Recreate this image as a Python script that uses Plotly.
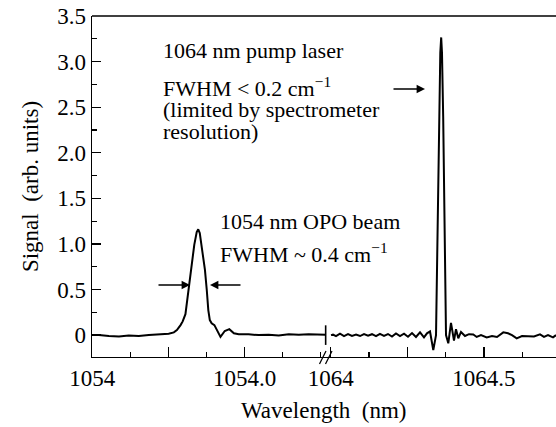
import plotly.graph_objects as go

# ---- data ----
# left segment (OPO beam, ~1054 nm)
wl_left = [1053.500, 1053.522, 1053.555, 1053.588, 1053.620, 1053.653, 1053.686, 1053.719,
           1053.751, 1053.768, 1053.778, 1053.790, 1053.797, 1053.806, 1053.812, 1053.819,
           1053.827, 1053.835, 1053.843, 1053.848, 1053.853, 1053.861, 1053.870, 1053.876,
           1053.881, 1053.886, 1053.892, 1053.901, 1053.910, 1053.921, 1053.935, 1053.950,
           1053.965, 1053.981, 1054.013, 1054.046, 1054.079, 1054.112, 1054.145, 1054.178,
           1054.210, 1054.243, 1054.266]
sig_left = [0.000, 0.000, -0.010, -0.015, -0.005, -0.010, 0.000, 0.010,
            0.015, 0.030, 0.055, 0.110, 0.150, 0.230, 0.385, 0.550,
            0.800, 0.990, 1.130, 1.160, 1.120, 0.935, 0.715, 0.495,
            0.275, 0.165, 0.130, 0.110, 0.045, -0.020, 0.045, 0.065,
            0.020, 0.010, 0.010, 0.000, 0.005, -0.005, 0.010, 0.005,
            0.010, 0.005, 0.005]

# right segment (pump laser, 1064 nm)
wl_right = [1064.0010, 1064.0075, 1064.0173, 1064.0304, 1064.0434, 1064.0565, 1064.0695, 1064.0826,
            1064.0957, 1064.1087, 1064.1218, 1064.1347, 1064.1478, 1064.1608, 1064.1739, 1064.1869,
            1064.2000, 1064.2130, 1064.2261, 1064.2392, 1064.2522, 1064.2653, 1064.2783, 1064.2914,
            1064.3044, 1064.3142, 1064.3240, 1064.3347, 1064.3436, 1064.3485, 1064.3533, 1064.3576,
            1064.3605, 1064.3631, 1064.3670, 1064.3716, 1064.3762, 1064.3837, 1064.3925, 1064.4023,
            1064.4088, 1064.4163, 1064.4251, 1064.4382, 1064.4512, 1064.4652, 1064.4763, 1064.4904,
            1064.5090, 1064.5263, 1064.5426, 1064.5631, 1064.5785, 1064.5915, 1064.6069, 1064.6241,
            1064.6437, 1064.6633, 1064.6829, 1064.6959, 1064.7090, 1064.7253, 1064.7351]
sig_right = [0.000, 0.005, -0.012, 0.015, -0.010, 0.012, -0.008, 0.006,
             -0.010, 0.012, -0.006, 0.010, -0.012, 0.014, -0.008, 0.012,
             -0.015, 0.018, -0.010, 0.016, -0.018, 0.022, -0.020, 0.030,
             -0.025, 0.020, 0.040, -0.165, 0.000, 1.200, 2.400, 3.100,
             3.265, 3.100, 2.400, 1.200, 0.000, -0.090, 0.135, -0.060,
             0.065, -0.035, 0.035, -0.010, 0.010, 0.008, -0.020, 0.000,
             -0.025, -0.010, -0.020, 0.030, 0.020, 0.000, -0.035, -0.010,
             -0.015, -0.015, 0.008, -0.020, 0.000, -0.025, 0.000]

break_wl = [1054.266]
break_sig = [0.0]

y_ticks = [0, 0.5, 1.0, 1.5, 2.0, 2.5, 3.0, 3.5]
y_ticktext = ["0", "0.5", "1.0", "1.5", "2.0", "2.5", "3.0", "3.5"]
xl_ticks = [1053.5, 1053.75, 1054.0]
xl_ticktext = ["1054", "", "1054.0"]
xr_ticks = [1064.0, 1064.25, 1064.5]
xr_ticktext = ["1064", "", "1064.5"]

FONT = "Liberation Serif, Times New Roman, serif"
BLACK = "black"

fig = go.Figure()
fig.add_trace(go.Scatter(x=wl_left, y=sig_left, mode="lines",
                         line=dict(color=BLACK, width=2), xaxis="x", yaxis="y",
                         showlegend=False, hoverinfo="skip"))
fig.add_trace(go.Scatter(x=wl_right, y=sig_right, mode="lines",
                         line=dict(color=BLACK, width=2), xaxis="x2", yaxis="y",
                         showlegend=False, hoverinfo="skip"))
fig.add_trace(go.Scatter(x=break_wl, y=break_sig, mode="markers",
                         marker=dict(symbol="line-ns", size=14,
                                     line=dict(color=BLACK, width=1.6)),
                         xaxis="x", yaxis="y", showlegend=False, hoverinfo="skip"))

SPLIT = 0.5108
tickfont = dict(family=FONT, size=23, color=BLACK)
common_x = dict(showline=True, linecolor=BLACK, linewidth=1.3, ticks="inside",
                ticklen=10, tickwidth=1.3, tickcolor=BLACK, tickfont=tickfont,
                showgrid=False, zeroline=False, tickmode="array", automargin=False)

fig.update_layout(
    template="none",
    width=556, height=427,
    margin=dict(l=92, r=0, t=16, b=70, autoexpand=False),
    paper_bgcolor="white", plot_bgcolor="white",
    font=dict(family=FONT, color=BLACK),
    xaxis=dict(domain=[0, SPLIT], range=[1053.4995, 1054.277],
               tickvals=xl_ticks, ticktext=xl_ticktext,
               minor=dict(ticks="inside", ticklen=5, tickwidth=1.3, tickcolor=BLACK,
                          tick0=1053.5, dtick=0.125, showgrid=False),
               **common_x),
    xaxis2=dict(domain=[SPLIT, 1], range=[1063.9945, 1064.7351], anchor="y",
                tickvals=xr_ticks, ticktext=xr_ticktext,
                minor=dict(ticks="inside", ticklen=5, tickwidth=1.3, tickcolor=BLACK,
                           tick0=1064.0, dtick=0.125, showgrid=False),
                **common_x),
    yaxis=dict(range=[-0.24, 3.5], showline=True, linecolor=BLACK, linewidth=1.3,
               ticks="inside", ticklen=9, tickwidth=1.3, tickcolor=BLACK,
               tickmode="array", tickvals=y_ticks, ticktext=y_ticktext,
               tickfont=tickfont, showgrid=False, zeroline=False, automargin=False,
               minor=dict(ticks="inside", ticklen=5, tickwidth=1.3, tickcolor=BLACK,
                          tick0=0, dtick=0.25, showgrid=False),
               title=dict(text="Signal  (arb. units)",
                          font=dict(family=FONT, size=23, color=BLACK), standoff=12)),
)

annots = [
    dict(text="Wavelength  (nm)", x=(323 - 92) / 464, y=(357 - 410) / 341,
         xanchor="center", font=dict(family=FONT, size=23, color=BLACK)),
    dict(text="1064 nm pump laser", x=(161 - 92) / 464, y=(357 - 50) / 341),
    dict(text="FWHM &lt; 0.2 cm<sup>−1</sup>", x=(161 - 92) / 464, y=(357 - 87) / 341),
    dict(text="(limited by spectrometer", x=(161 - 92) / 464, y=(357 - 109) / 341),
    dict(text="resolution)", x=(161 - 92) / 464, y=(357 - 131) / 341),
    dict(text="1054 nm OPO beam", x=(218 - 92) / 464, y=(357 - 221) / 341),
    dict(text="FWHM ~ 0.4 cm<sup>−1</sup>", x=(218 - 92) / 464, y=(357 - 253) / 341),
]
for a in annots:
    a.setdefault("xref", "paper")
    a.setdefault("yref", "paper")
    a.setdefault("showarrow", False)
    a.setdefault("xanchor", "left")
    a.setdefault("yanchor", "middle")
    a.setdefault("font", dict(family=FONT, size=22, color=BLACK))
    fig.add_annotation(**a)

# arrows
arrows = [((190, 285), -33), ((210, 285), 32), ((425, 89), -33)]
for (hx, hy), dx in arrows:
    fig.add_annotation(x=(hx - 92) / 464, y=(357 - hy) / 341, xref="paper", yref="paper",
                       ax=dx, ay=0, axref="pixel", ayref="pixel", text="",
                       showarrow=True, arrowhead=2, arrowsize=1.2, arrowwidth=1.4,
                       arrowcolor=BLACK, standoff=0)

# top frame line
fig.add_shape(type="line", xref="paper", yref="paper", x0=0, x1=1, y0=1, y1=1,
              line=dict(color=BLACK, width=1.3))
# axis break marks
for x0 in (319.5, 325.5):
    fig.add_shape(type="line", xref="paper", yref="paper",
                  x0=(x0 - 92) / 464, x1=(x0 + 6.5 - 92) / 464,
                  y0=(357 - 364) / 341, y1=(357 - 351) / 341,
                  line=dict(color=BLACK, width=1.2))

fig.write_html("out.html",
               config={"displayModeBar": False, "staticPlot": True},
               post_script="document.body.style.margin='0';document.body.style.overflow='hidden';")
